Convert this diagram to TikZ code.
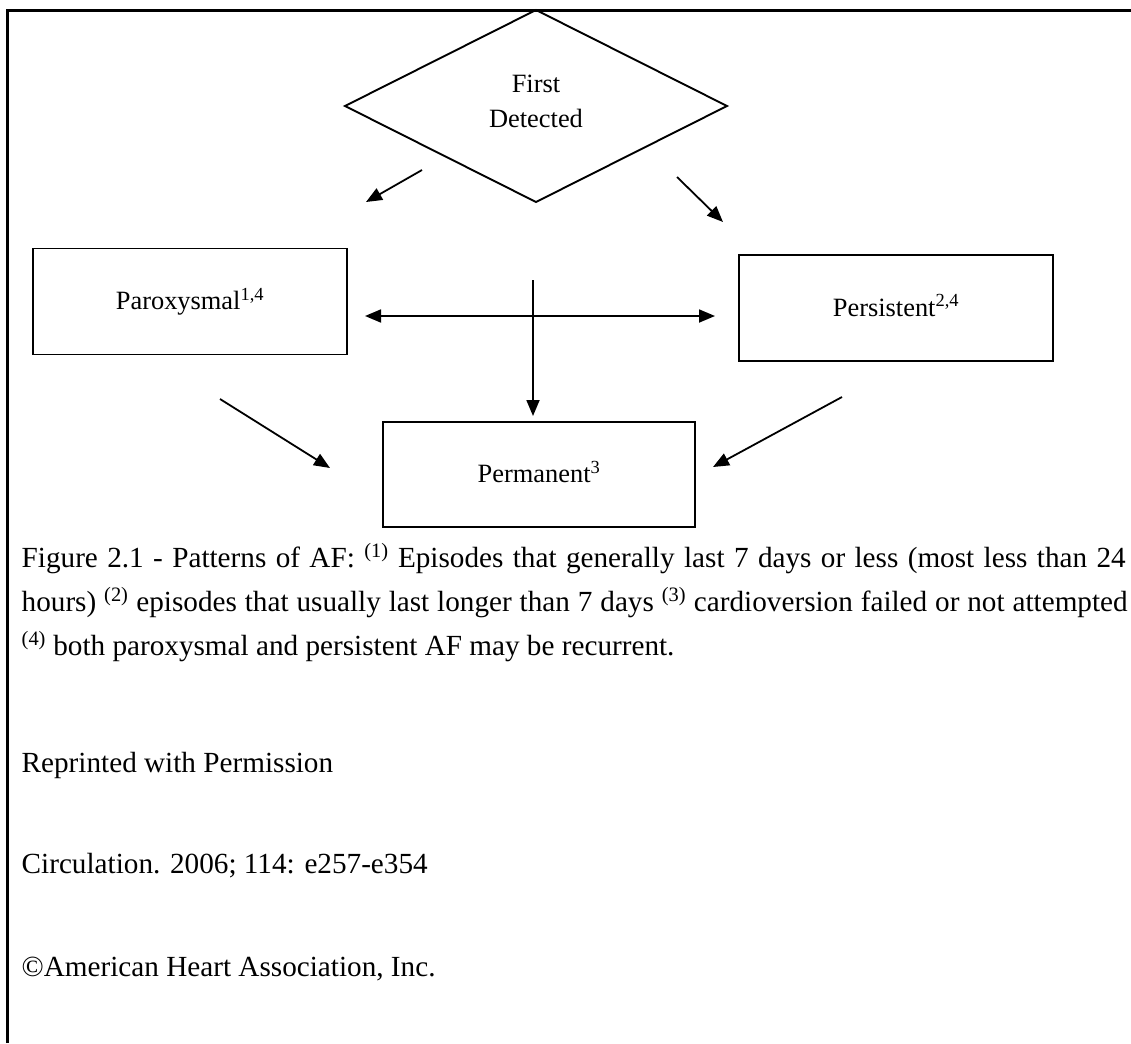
\documentclass[tikz,border=0pt]{standalone}
\usepackage{fontspec}
\setmainfont{Liberation Serif}
\usetikzlibrary{arrows.meta}
\begin{document}
\begin{tikzpicture}[x=1pt,y=-1pt,
  box/.style={draw, line width=1.9pt, rectangle, inner sep=0pt, minimum height=106pt,
    text height=20pt, text depth=4pt, font=\fontsize{26.4}{30}\selectfont},
  boxtext/.style={inner sep=0pt, align=center, font=\fontsize{26.4}{35}\selectfont},
  arr/.style={line width=1.8pt, -{Triangle[length=16pt,width=13pt]}},
  dblarr/.style={line width=1.8pt, {Triangle[length=16pt,width=13pt]}-{Triangle[length=16pt,width=13pt]}},
  captext/.style={inner sep=0pt, anchor=base west, font=\fontsize{29.2}{34}\selectfont},
  shapeline/.style={line width=1.9pt, line join=miter}]
\useasboundingbox (0,0) rectangle (1131,1043);
% frame
\draw[line width=3pt] (7.5,1043) -- (7.5,11) -- (1131,11);
% diamond
\coordinate (dT) at (536,10);
\coordinate (dR) at (727,106);
\coordinate (dB) at (536,202);
\coordinate (dL) at (345,106);
\draw[shapeline] (dT) -- (dR) -- (dB) -- (dL) -- cycle;
\node[boxtext] (fd) at (536,101.5) {First\\Detected};
% boxes
\node[box, minimum width=314pt] (par) at (190,301.5) {Paroxysmal\textsuperscript{1,4}};
\node[box, minimum width=314pt] (per) at (896,308) {Persistent\textsuperscript{2,4}};
\node[box, minimum width=312pt, minimum height=105pt] (perm) at (539,474.5) {Permanent\textsuperscript{3}};
% arrow end points
\coordinate (a1s) at (422,170); \coordinate (a1e) at (366,202);
\coordinate (a2s) at (677,177); \coordinate (a2e) at (723,222);
\coordinate (hL) at (365,316); \coordinate (hR) at (715,316);
\coordinate (vs) at (533,280); \coordinate (ve) at (533,416);
\coordinate (lls) at (220,399); \coordinate (lle) at (330,468);
\coordinate (lrs) at (842,397); \coordinate (lre) at (713,467);
\draw[arr] (a1s) -- (a1e);
\draw[arr] (a2s) -- (a2e);
\draw[dblarr] (hL) -- (hR);
\draw[arr] (vs) -- (ve);
\draw[arr] (lls) -- (lle);
\draw[arr] (lrs) -- (lre);
% caption
\node[captext] (c1) at (21.5,567) {\makebox[1104pt][s]{Figure 2.1 - Patterns of AF: \textsuperscript{(1)} Episodes that generally last 7 days or less (most less than 24}};
\node[captext] (c2) at (21.5,611) {\makebox[1106pt][s]{hours) \textsuperscript{(2)} episodes that usually last longer than 7 days \textsuperscript{(3)} cardioversion failed or not attempted}};
\node[captext] (c3) at (21.5,655) {\textsuperscript{(4)} both paroxysmal and persistent AF may be recurrent.};
\node[captext] (r1) at (21.5,772) {Reprinted with Permission};
\node[captext] (r2) at (21.5,873) {Circulation. 2006; 114: e257-e354};
\node[captext] (r3) at (21.5,976) {©American Heart Association, Inc.};
\end{tikzpicture}
\end{document}
